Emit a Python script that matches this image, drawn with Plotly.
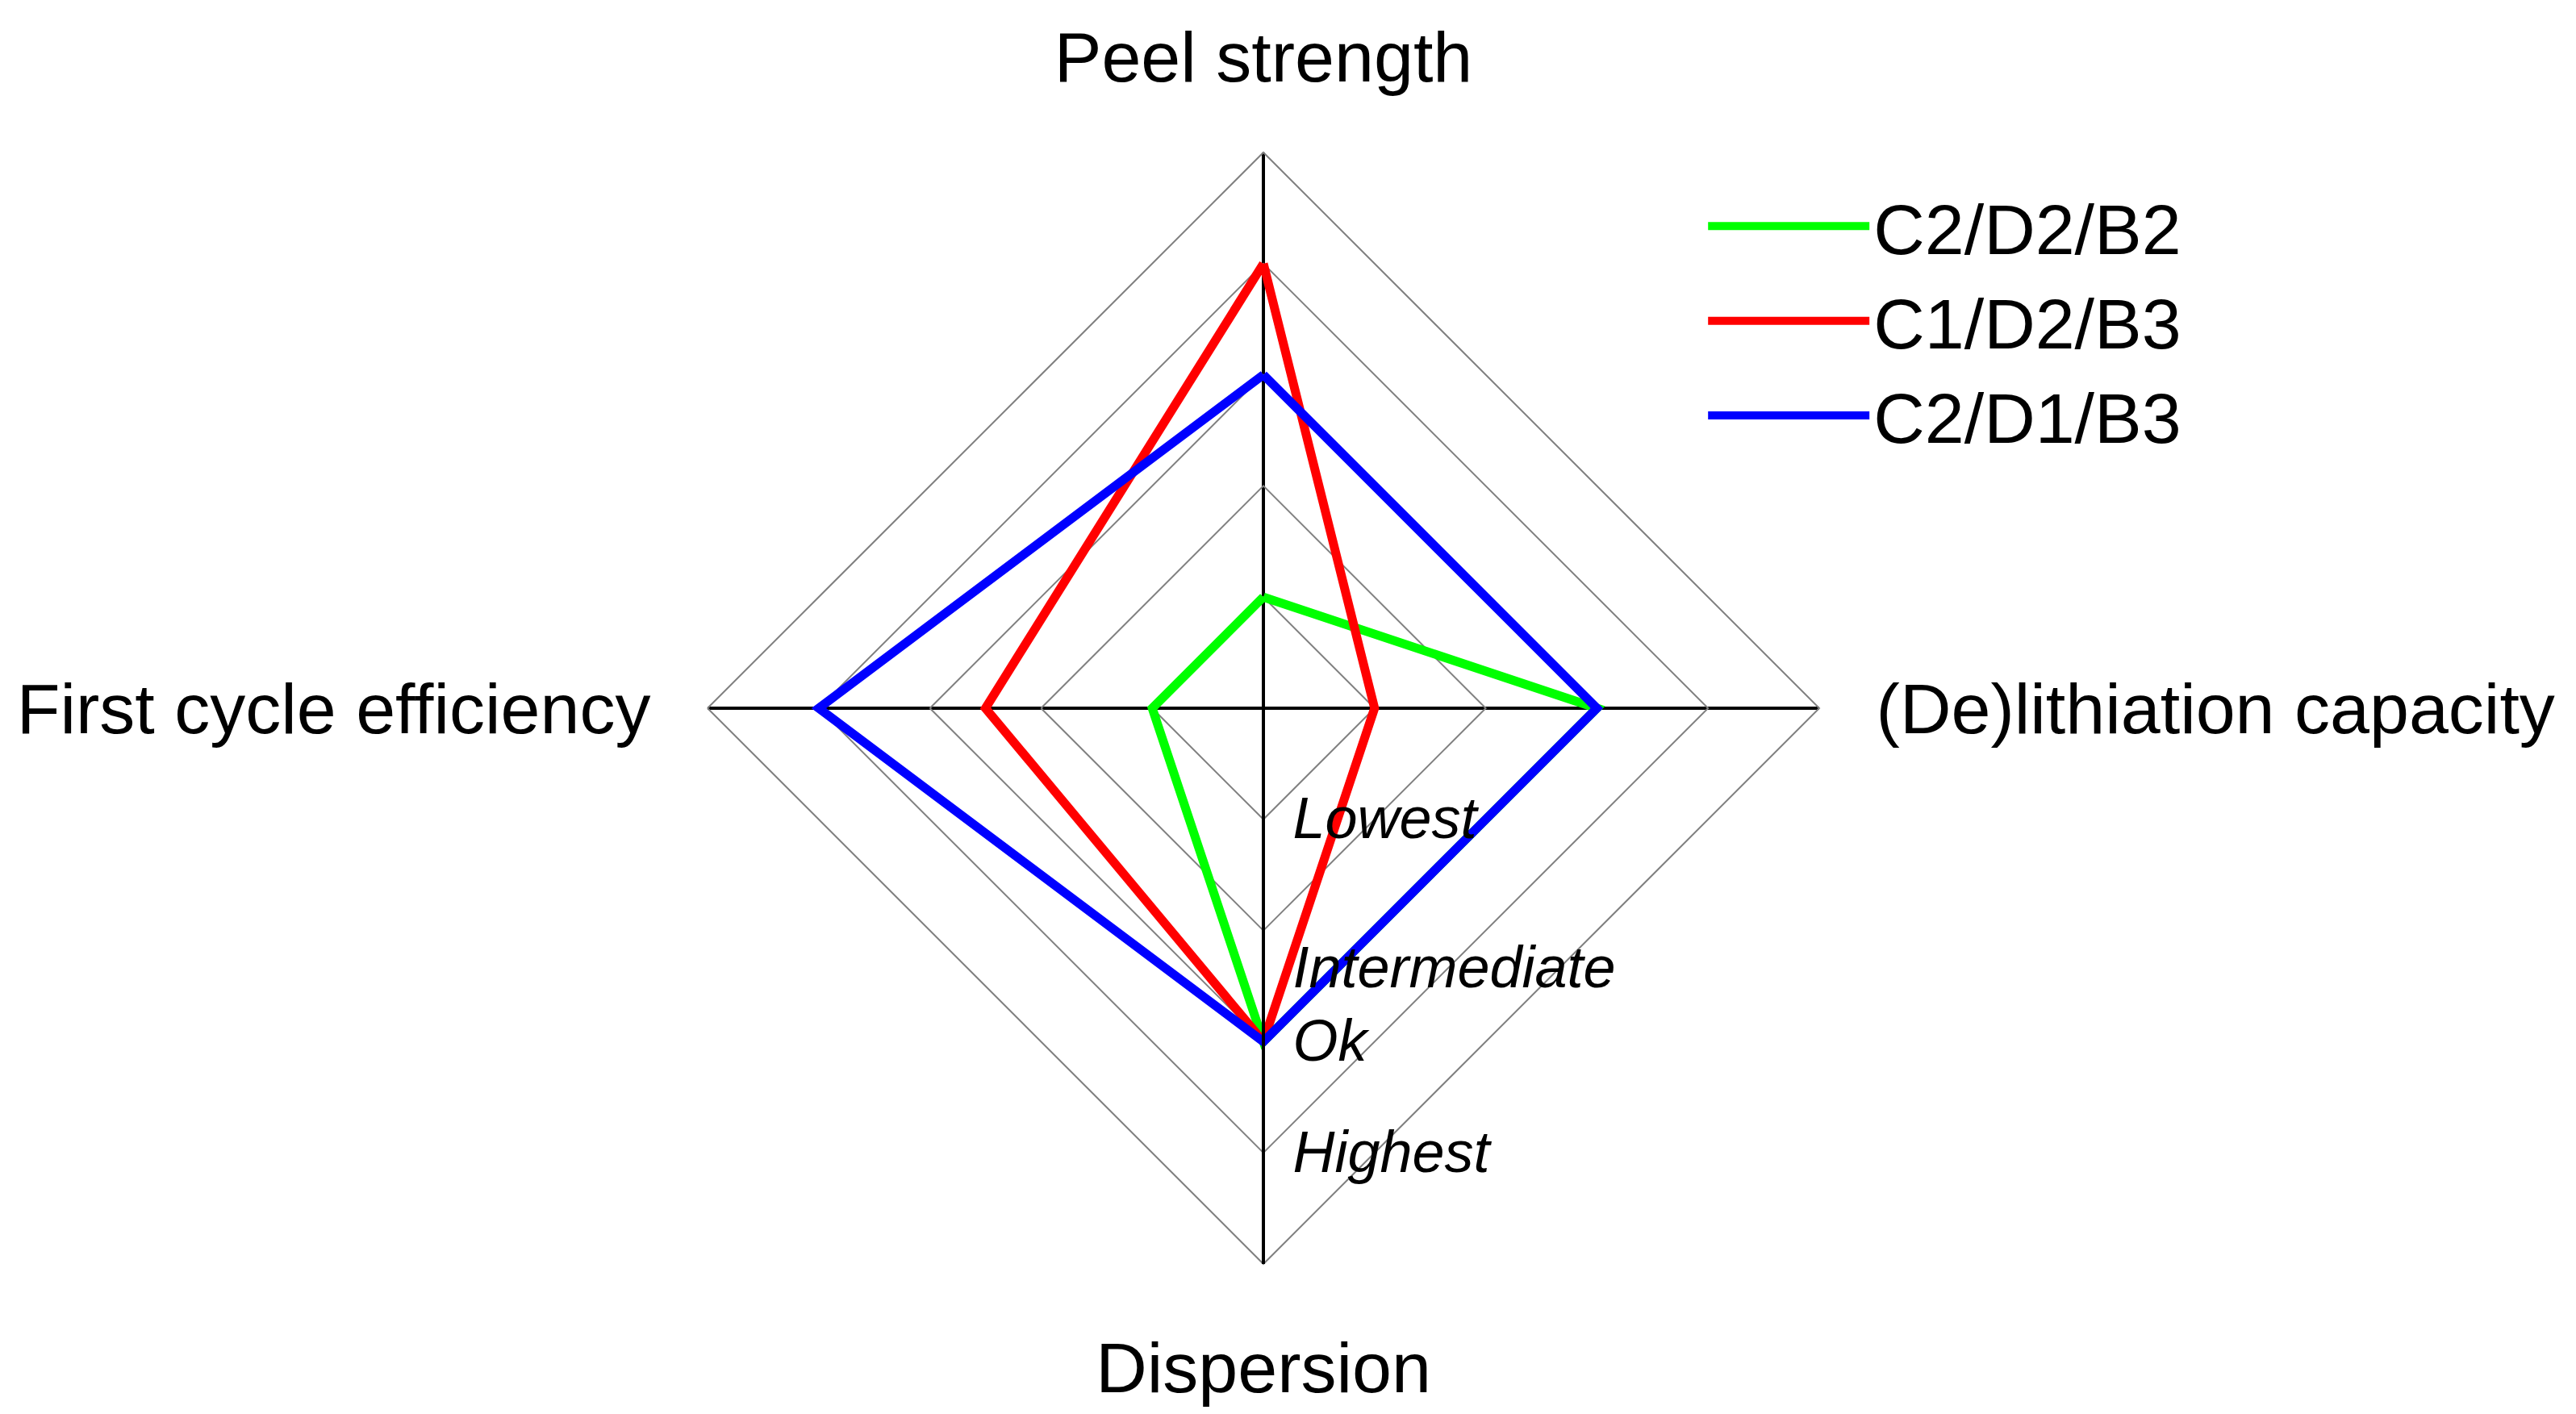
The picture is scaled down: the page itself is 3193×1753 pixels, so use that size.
import plotly.graph_objects as go

categories = ["Peel strength", "(De)lithiation capacity", "Dispersion", "First cycle efficiency"]
series_names = ["C2/D2/B2", "C1/D2/B3", "C2/D1/B3"]
green_vals = [1, 3, 3, 1]
red_vals = [4, 1, 3, 2.5]
blue_vals = [3, 3, 3, 4]
colors = ["#00ff00", "#ff0000", "#0000ff"]
level_vals = [1, 2, 3, 4]
level_text = ["Lowest", "<br>Intermediate", "Ok", "Highest"]

W, H = 3193, 1753
fig = go.Figure()
for name, vals, col in zip(series_names, [green_vals, red_vals, blue_vals], colors):
    fig.add_trace(go.Scatterpolar(
        r=vals + vals[:1], theta=categories + categories[:1],
        mode="lines", name=name, line=dict(color=col, width=11),
    ))

cx, cy, R = 1558, 870, 689
fig.update_layout(
    width=W, height=H,
    paper_bgcolor="white", plot_bgcolor="white",
    margin=dict(l=0, r=0, t=0, b=0),
    font=dict(family="Liberation Sans, Arial, sans-serif", size=88, color="black"),
    polar=dict(
        domain=dict(x=[(cx - R) / W, (cx + R) / W], y=[(H - cy - R) / H, (H - cy + R) / H]),
        gridshape="linear",
        bgcolor="white",
        angularaxis=dict(
            rotation=90, direction="clockwise",
            showline=True, linecolor="#808080", linewidth=2,
            showgrid=True, gridcolor="black", gridwidth=4,
            ticks="outside", ticklen=52, tickcolor="rgba(0,0,0,0)",
            tickfont=dict(size=88, color="black"),
        ),
        radialaxis=dict(
            range=[0, 5], angle=-90, side="counterclockwise",
            tickvals=level_vals, ticktext=level_text,
            showline=True, linecolor="black", linewidth=4,
            showgrid=True, gridcolor="#808080", gridwidth=2,
            ticks="outside", ticklen=20, tickcolor="rgba(0,0,0,0)", tickangle=-90,
            tickfont=dict(size=72, color="black", style="italic"),
        ),
    ),
    legend=dict(
        x=0.659, y=0.881, xanchor="left", yanchor="top",
        font=dict(size=88), itemwidth=200, bgcolor="rgba(0,0,0,0)",
    ),
)
fig.write_html("out.html")
